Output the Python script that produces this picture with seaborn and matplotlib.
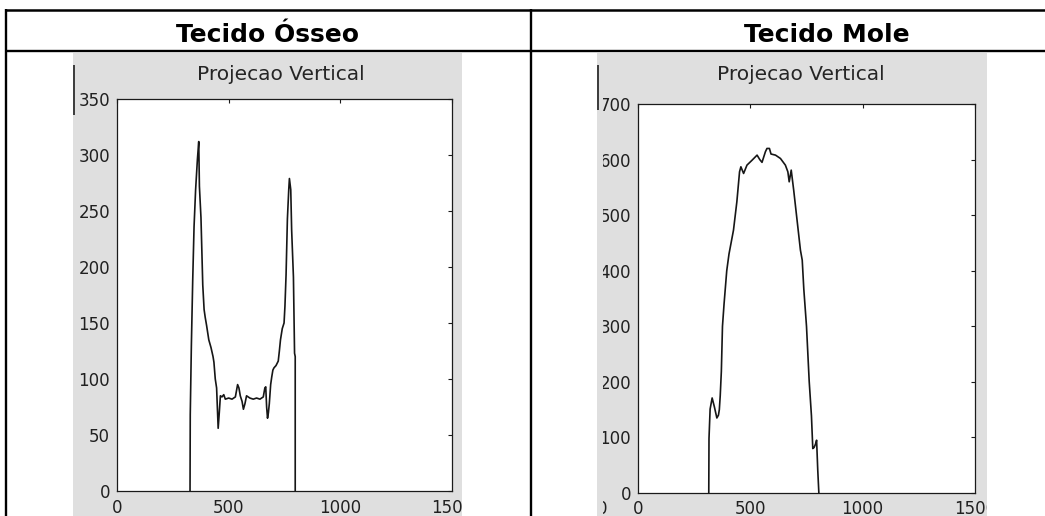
import matplotlib
matplotlib.use("Agg")
import matplotlib.pyplot as plt
import seaborn as sns
import numpy as np
import pandas as pd
from matplotlib.patches import Rectangle
from matplotlib.lines import Line2D
from matplotlib.transforms import Bbox, TransformedBbox

# ---------------- data ----------------
headers = ["Tecido Ósseo", "Tecido Mole"]
panel_title = "Projecao Vertical"

bone_x = [327, 328, 333, 339, 345, 352, 360, 366, 369,
          376, 384, 390, 395, 401, 411, 421, 430, 434, 440,
          446, 453, 458, 463, 470, 478, 485, 500, 515, 530,
          540, 546, 552, 560, 566, 573, 580, 595, 610, 625,
          640, 655, 662, 666, 670, 674, 678, 682, 688, 693,
          698, 703, 712, 722, 727, 732, 740, 748, 752, 757,
          763, 769, 772, 778, 782, 790, 795, 798, 798]
bone_y = [0, 68, 130, 188, 236, 269, 296, 312, 272,
          244, 184, 162, 155, 148, 135, 128, 120, 115, 100,
          92, 56, 70, 85, 84, 86, 82, 83, 82, 84,
          95, 92, 85, 80, 73, 78, 85, 83, 82, 83,
          82, 84, 92, 93, 75, 65, 70, 78, 95, 102,
          108, 110, 112, 116, 125, 135, 145, 150, 165, 193,
          243, 269, 279, 269, 233, 191, 123, 120, 0]

soft_x = [315, 316, 321, 330, 340, 351, 358, 362, 366,
          371, 376, 383, 395, 405, 425, 440, 452, 458, 470,
          485, 508, 530, 542, 552, 567, 574, 585, 592, 612,
          634, 656, 667, 673, 682, 693, 708, 723, 731, 738,
          750, 762, 772, 778, 784, 790, 795, 800, 805]
soft_y = [0, 98, 151, 171, 155, 135, 140, 150, 175,
          219, 300, 340, 400, 430, 473, 524, 578, 587, 575,
          590, 599, 608, 600, 595, 614, 620, 620, 610, 608,
          602, 590, 578, 560, 581, 545, 491, 437, 419, 367,
          300, 201, 139, 80, 82, 88, 95, 42, 0]

x_ticks = [0, 500, 1000, 1500]
x_ticklabels = ["0", "500", "1000", "1500"]
bone_yticks = [0, 50, 100, 150, 200, 250, 300, 350]
bone_yticklabels = ["0", "50", "100", "150", "200", "250", "300", "350"]
soft_yticks = [0, 100, 200, 300, 400, 500, 600, 700]
soft_yticklabels = ["0", "100", "200", "300", "400", "500", "600", "700"]

# ---------------- figure ----------------
W, H = 1045, 516
sns.set_theme(style="white")
plt.rcParams['font.family'] = ['DejaVu Sans']

fig = plt.figure(figsize=(W / 100, H / 100), dpi=100)
fig.patch.set_facecolor("white")


def fx(x):
    return x / W


def fy(y):
    return 1 - y / H


def fline(x0, y0, x1, y1, lw, color="black"):
    fig.add_artist(Line2D([fx(x0), fx(x1)], [fy(y0), fy(y1)],
                          transform=fig.transFigure, color=color, lw=lw,
                          solid_capstyle="butt"))


# table grid
fline(5, 9.7, 1045, 9.7, 1.8)
fline(5, 51.2, 1045, 51.2, 1.7)
fline(6.3, 8.5, 6.3, 516, 1.7)
fline(530.5, 8.5, 530.5, 516, 1.7)

gray = "#dfdfdf"
panels = [
    dict(gx0=73, gx1=462, ax=(117, 99, 452, 491), tcx=281,
         x=bone_x, y=bone_y, yt=bone_yticks, ytl=bone_yticklabels,
         ylim=350, clipx0=73, art=(73.5, 65, 115), header_x=267.5, xpad=6.0),
    dict(gx0=597, gx1=987, ax=(638, 104, 975, 493), tcx=801,
         x=soft_x, y=soft_y, yt=soft_yticks, ytl=soft_yticklabels,
         ylim=700, clipx0=603, art=(597.5, 65, 110), header_x=827, xpad=5.2),
]

for i, p in enumerate(panels):
    # gray matlab figure background
    fig.add_artist(Rectangle((fx(p["gx0"]), 0), (p["gx1"] - p["gx0"]) / W,
                             fy(52.5), transform=fig.transFigure,
                             facecolor=gray, edgecolor="none", zorder=0))
    # header
    fig.text(fx(p["header_x"]), fy(41.7), headers[i], ha="center",
             va="baseline", fontsize=18, fontweight="bold", color="black")
    # matlab title
    fig.text(fx(p["tcx"]), fy(80), panel_title, ha="center", va="baseline",
             fontsize=14.5, color="#252525")
    # stray artifact line at left of screenshot
    ax_, ay0, ay1 = p["art"]
    fline(ax_, ay0, ax_, ay1, 1.2, color="#202020")

    l, t, r, b = p["ax"]
    ax = fig.add_axes([fx(l), fy(b), (r - l) / W, (b - t) / H])
    ax.set_facecolor("white")
    df = pd.DataFrame({"x": p["x"], "y": p["y"]})
    sns.lineplot(data=df, x="x", y="y", ax=ax, estimator=None, sort=False,
                 color="#161616", linewidth=1.2)
    ax.set_xlim(0, 1500)
    ax.set_ylim(0, p["ylim"])
    ax.set_xticks(x_ticks)
    ax.set_xticklabels(x_ticklabels)
    ax.set_yticks(p["yt"])
    ax.set_yticklabels(p["ytl"])
    ax.set_xlabel("")
    ax.set_ylabel("")
    for s in ax.spines.values():
        s.set_visible(True)
        s.set_color("#1a1a1a")
        s.set_linewidth(0.9)
    ax.tick_params(axis="both", direction="in", length=3, width=0.8,
                   colors="#1a1a1a", labelsize=12, top=True, right=True,
                   labeltop=False, labelright=False)
    ax.tick_params(axis="x", pad=p["xpad"])
    ax.tick_params(axis="y", pad=5)
    ax.grid(False)

    clip = TransformedBbox(Bbox.from_extents(fx(p["clipx0"]), 0,
                                             fx(p["gx1"]), fy(52.5)),
                           fig.transFigure)
    for tk in ax.xaxis.get_major_ticks() + ax.yaxis.get_major_ticks():
        tk.label1.set_clip_on(True)
        tk.label1.set_clip_box(clip)
        tk.label1.set_color("#202020")

# stray partially hidden character at bottom-left of right screenshot
stray = fig.text(fx(602), fy(514), "0", ha="center", va="baseline",
                 fontsize=12, color="#202020")
stray.set_clip_on(True)
stray.set_clip_box(TransformedBbox(Bbox.from_extents(fx(603), 0, fx(987), fy(52.5)),
                                   fig.transFigure))

fig.savefig("out.png", dpi=100, facecolor="white")
